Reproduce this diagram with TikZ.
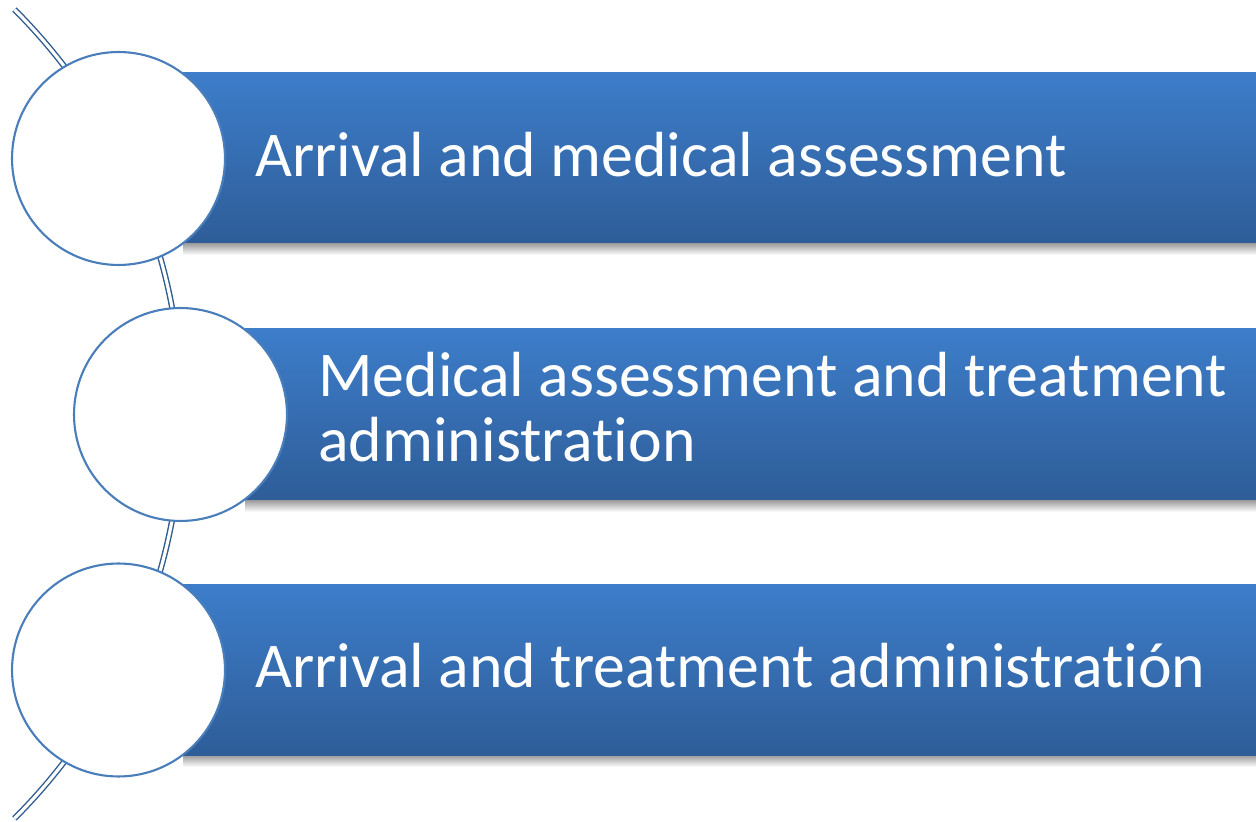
\documentclass[tikz,border=0pt]{standalone}
\usepackage{fontspec}
\setmainfont{Carlito}[Ligatures={NoCommon}]
\usepackage{tikz}

\definecolor{barTop}{HTML}{3D7DCA}
\definecolor{barBottom}{HTML}{2E5D98}
\definecolor{ringBlue}{HTML}{4A7EBB}
\definecolor{railBlue}{HTML}{2F5B8F}

\tikzset{
    stagebar/.style={top color=barTop, bottom color=barBottom},
    barshadow/.style={top color=black!40, bottom color=white},
    stagecircle/.style={circle, draw=ringBlue, line width=1.2pt, fill=white,
        minimum size=4.26cm, inner sep=0pt},
    stagetext/.style={text=white, inner sep=0pt, align=left,
        font=\fontsize{36.3}{37}\selectfont},
}

\begin{document}
\begin{tikzpicture}[x=0.02cm,y=0.02cm]
    \useasboundingbox (0,0) rectangle (1256,821);

    % Rail behind the circles
    \draw[railBlue, line width=0.8pt, double=white, double distance=1.8pt]
        (-390,407) ++(-45:572) arc (-45:45:572);

    % Shadows under the bars
    \shade[barshadow] (183,566) rectangle (1256,578);
    \shade[barshadow] (245,309) rectangle (1256,321);
    \shade[barshadow] (183,54) rectangle (1256,66);

    % Bars
    \shade[stagebar] (183,578) rectangle (1256,748);
    \shade[stagebar] (245,321) rectangle (1256,492);
    \shade[stagebar] (183,66) rectangle (1256,236);

    % Circles
    \node[stagecircle] (c1) at (118.5,662.5) {};
    \node[stagecircle] (c2) at (180.5,406.5) {};
    \node[stagecircle] (c3) at (118.5,151) {};

    % Labels (two-line label sits on its last baseline)
    \node[stagetext, anchor=base west] (t1) at (255,644) {Arrival and medical assessment};
    \node[stagetext, anchor=base west] (t2) at (318,359) {Medical assessment and treatment\\administration};
    \node[stagetext, anchor=base west] (t3) at (255,133) {Arrival and treatment administratión};
\end{tikzpicture}
\end{document}
